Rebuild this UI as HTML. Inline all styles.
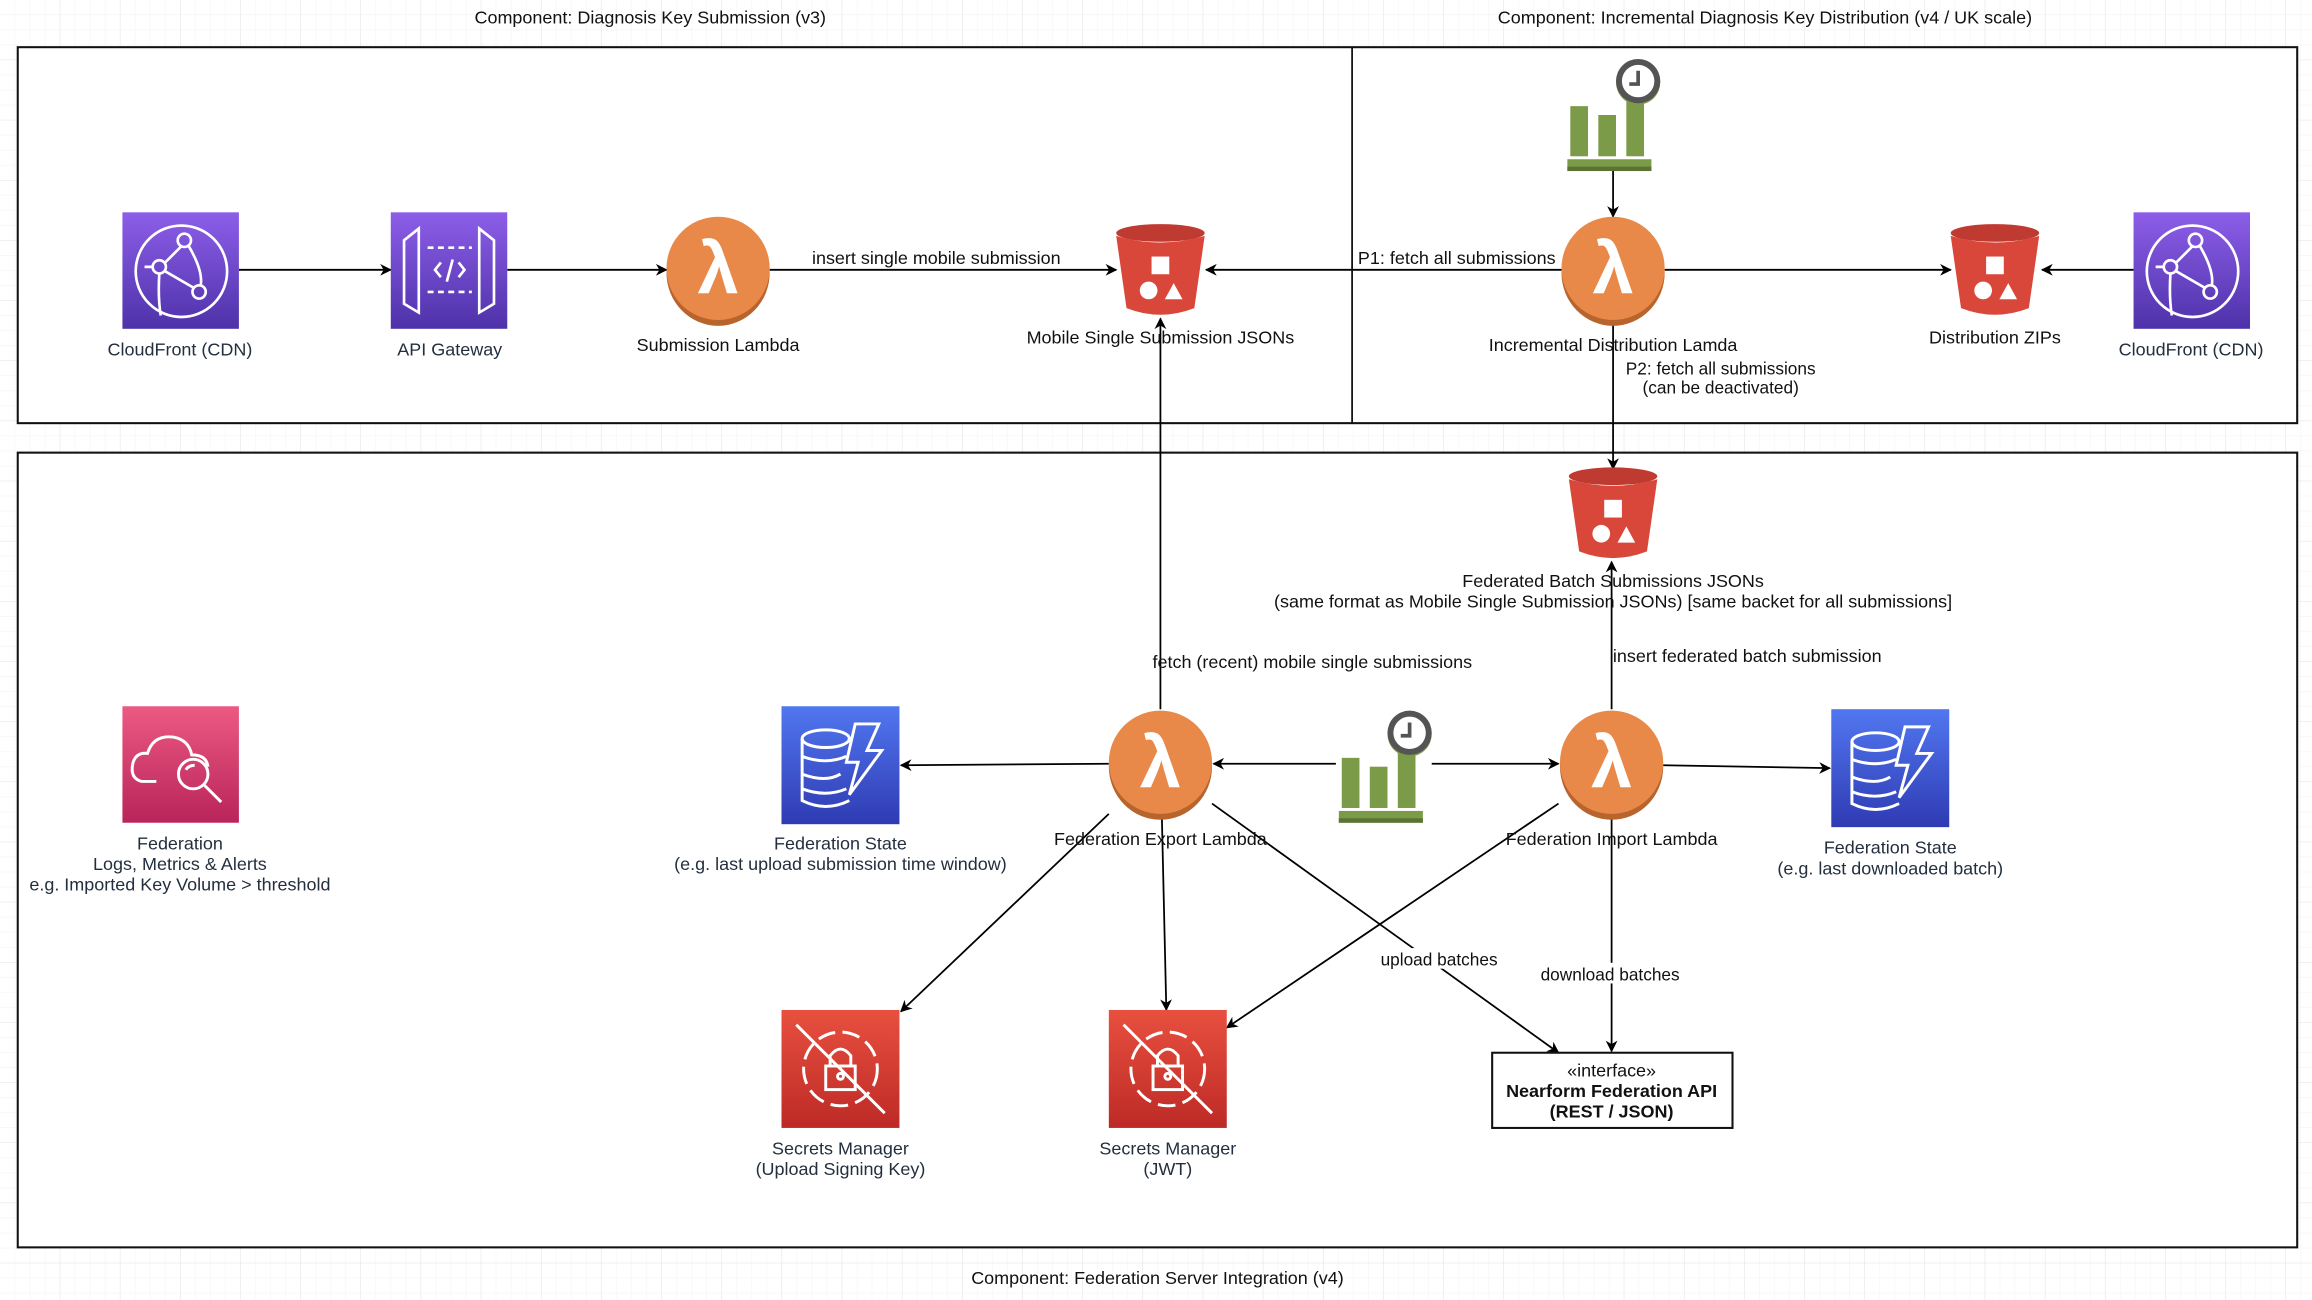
<!DOCTYPE html>
<html><head><meta charset="utf-8"><style>
html,body{margin:0;padding:0;background:#fff}
svg{display:block}
text{font-family:"Liberation Sans",Arial,sans-serif;font-size:12.2px;fill:#111}
.l{fill:#232f3e}
</style></head><body>
<svg width="2312" height="1300" viewBox="0 0 1568 881.7" xmlns="http://www.w3.org/2000/svg">
<defs>
<pattern id="gm" width="10.2" height="10.2" patternUnits="userSpaceOnUse"><path d="M10.2 0V10.2H0" fill="none" stroke="#f1f1f1" stroke-width="0.6"/></pattern>
<pattern id="gM" width="40.8" height="40.8" patternUnits="userSpaceOnUse"><rect width="40.8" height="40.8" fill="url(#gm)"/><path d="M40.8 0V40.8H0" fill="none" stroke="#e2e2e2" stroke-width="0.7"/></pattern>
<marker id="a" viewBox="0 0 10 10" refX="9" refY="5" markerWidth="8" markerHeight="8" orient="auto" markerUnits="userSpaceOnUse"><path d="M0,0 L10,5 L0,10 L3,5 Z" fill="#000"/></marker>
<linearGradient id="pu" x1="0" y1="0" x2="0" y2="1"><stop offset="0" stop-color="#8d5ee9"/><stop offset="1" stop-color="#4e32a9"/></linearGradient>
<linearGradient id="bl" x1="0" y1="0" x2="0" y2="1"><stop offset="0" stop-color="#5177f0"/><stop offset="1" stop-color="#2f3bb3"/></linearGradient>
<linearGradient id="rd" x1="0" y1="0" x2="0" y2="1"><stop offset="0" stop-color="#e8503f"/><stop offset="1" stop-color="#bd2a26"/></linearGradient>
<linearGradient id="pk" x1="0" y1="0" x2="0" y2="1"><stop offset="0" stop-color="#ec5a83"/><stop offset="1" stop-color="#b9245a"/></linearGradient>
<g id="cf"><rect width="79" height="79" fill="url(#pu)"/><g fill="none" stroke="#fff" stroke-width="1.8"><ellipse cx="40" cy="40" rx="31" ry="31"/><circle cx="42" cy="19" r="4.5"/><circle cx="25" cy="37" r="4.5"/><circle cx="52" cy="54" r="4.5"/><path d="M40 23 L29 34 M29 40 L48 51 M25 42 Q24 58 26 70 M45 23 Q55 40 53 50 M15 37 H20"/></g></g>
<g id="lam"><ellipse cx="0" cy="3" rx="35" ry="36" fill="#b8642d"/><ellipse cx="0" cy="0" rx="35" ry="35" fill="#e8894a"/><text x="0" y="17" text-anchor="middle" style="font-size:50px;font-weight:bold;fill:#fff">λ</text></g>
<g id="bk"><ellipse cx="30" cy="6" rx="30" ry="6" fill="#bf3a30"/><path d="M0,8 L7,57 Q30,66 53,57 L60,8 Q30,17 0,8 Z" fill="#d9473a"/><rect x="24" y="22" width="12" height="12" fill="#fff"/><circle cx="22" cy="45" r="6" fill="#fff"/><path d="M33 51 L39 40 L45 51 Z" fill="#fff"/></g>
<g id="ddb"><rect width="80" height="80" fill="url(#bl)"/><g fill="none" stroke="#fff" stroke-width="2"><ellipse cx="30" cy="22" rx="16" ry="6"/><path d="M14 22 V64 Q30 72 46 64 M14 34 Q30 40 44 34 M14 46 Q30 52 40 46 M14 56 Q30 62 44 56 M50 12 H66 L58 30 H68 L46 60 L52 38 H44 Z"/></g></g>
<g id="sm"><rect width="80" height="80" fill="url(#rd)"/><g fill="none" stroke="#fff" stroke-width="2"><circle cx="40" cy="40" r="25" stroke-dasharray="12 5"/><rect x="30" y="38" width="20" height="16"/><path d="M33 38 V31 Q40 22 47 31 V38 M10 10 L70 70"/><circle cx="40" cy="45" r="2"/></g></g>
<g id="clk"><rect x="0" y="30" width="12" height="34" fill="#7c9b48"/><rect x="19" y="36" width="12" height="28" fill="#7c9b48"/><rect x="38" y="24" width="12" height="40" fill="#7c9b48"/><rect x="-2" y="66" width="57" height="8" fill="#7c9b48"/><rect x="-2" y="71" width="57" height="3" fill="#5a7334"/><circle cx="46" cy="14" r="15" fill="#7c9b48"/><circle cx="46" cy="13" r="15" fill="#545454"/><circle cx="46" cy="13" r="11" fill="#fff"/><path d="M46 6 V15 H40" fill="none" stroke="#545454" stroke-width="2.5"/></g>
</defs>
<rect width="1568" height="881.7" fill="url(#gM)"/>
<rect x="12" y="32" width="1546" height="255" fill="#fff" stroke="#111" stroke-width="1.4"/>
<line x1="917" y1="32" x2="917" y2="287" stroke="#111" stroke-width="1.2"/>
<rect x="12" y="307" width="1546" height="539" fill="#fff" stroke="#111" stroke-width="1.4"/>
<text x="441" y="16" text-anchor="middle">Component: Diagnosis Key Submission (v3)</text>
<text x="1197" y="16" text-anchor="middle">Component: Incremental Diagnosis Key Distribution (v4 / UK scale)</text>
<text x="785" y="871" text-anchor="middle">Component: Federation Server Integration (v4)</text>

<g stroke="#000" stroke-width="1.2" fill="none" marker-end="url(#a)">
<line x1="162" y1="183" x2="265" y2="183"/>
<line x1="344" y1="183" x2="452" y2="183"/>
<line x1="522" y1="183" x2="757" y2="183"/>
<line x1="1059" y1="183" x2="818" y2="183"/>
<line x1="1129" y1="183" x2="1323" y2="183"/>
<line x1="1447" y1="183" x2="1385" y2="183"/>
<line x1="1094" y1="113" x2="1094" y2="147"/>
<line x1="1094" y1="220" x2="1094" y2="318"/>
<line x1="787" y1="481" x2="787" y2="216"/>
<line x1="1093" y1="481" x2="1093" y2="381"/>
<line x1="752" y1="518" x2="611" y2="519"/>
<line x1="906" y1="518" x2="823" y2="518"/>
<line x1="971" y1="518" x2="1057" y2="518"/>
<line x1="1128" y1="519" x2="1241" y2="521"/>
<line x1="752" y1="552" x2="611" y2="686"/>
<line x1="788" y1="555" x2="791" y2="685"/>
<line x1="822" y1="545" x2="1057" y2="714"/>
<line x1="1057" y1="545" x2="832" y2="697"/>
<line x1="1093" y1="555" x2="1093" y2="713"/>
</g>
<g fill="#fff">
<rect x="555" y="167" width="160" height="14"/><rect x="925" y="167" width="126" height="14"/>
<rect x="789" y="441" width="203" height="14"/><rect x="1100" y="437" width="172" height="14"/>
<rect x="936" y="643" width="80" height="14"/><rect x="1045" y="653" width="94" height="14"/>
</g>
<text x="635" y="179" text-anchor="middle">insert single mobile submission</text>
<text x="988" y="179" text-anchor="middle">P1: fetch all submissions</text>
<text x="1167" y="254" text-anchor="middle" style="font-size:11.7px">P2: fetch all submissions</text>
<text x="1167" y="267" text-anchor="middle" style="font-size:11.7px">(can be deactivated)</text>
<text x="890" y="453" text-anchor="middle">fetch (recent) mobile single submissions</text>
<text x="1185" y="449" text-anchor="middle">insert federated batch submission</text>
<text x="976" y="655" text-anchor="middle" style="font-size:11.7px">upload batches</text>
<text x="1092" y="665" text-anchor="middle" style="font-size:11.7px">download batches</text>

<use href="#cf" x="83" y="144"/><text class="l" x="122" y="241" text-anchor="middle">CloudFront (CDN)</text>
<rect x="265" y="144" width="79" height="79" fill="url(#pu)"/>
<g fill="none" stroke="#fff" stroke-width="1.8"><path d="M274 163 L284 155 V212 L274 206 Z M335 163 L325 155 V212 L335 206 Z"/><path d="M290 168 H320 M290 198 H320" stroke-dasharray="4 3"/><path d="M299 178 L295 183 L299 188 M311 178 L315 183 L311 188 M307 176 L303 191"/></g>
<text class="l" x="305" y="241" text-anchor="middle">API Gateway</text>
<use href="#lam" x="487" y="182"/><text x="487" y="238" text-anchor="middle">Submission Lambda</text>
<use href="#bk" x="757" y="152"/><text x="787" y="233" text-anchor="middle">Mobile Single Submission JSONs</text>
<use href="#clk" x="1065" y="42"/>
<use href="#lam" x="1094" y="182"/><text x="1094" y="238" text-anchor="middle">Incremental Distribution Lamda</text>
<use href="#bk" x="1323" y="152"/><text x="1353" y="233" text-anchor="middle">Distribution ZIPs</text>
<use href="#cf" x="1447" y="144"/><text class="l" x="1486" y="241" text-anchor="middle">CloudFront (CDN)</text>

<use href="#bk" x="1064" y="317"/>
<text x="1094" y="398" text-anchor="middle">Federated Batch Submissions JSONs</text>
<text x="1094" y="412" text-anchor="middle">(same format as Mobile Single Submission JSONs) [same backet for all submissions]</text>

<rect x="83" y="479" width="79" height="79" fill="url(#pk)"/>
<g fill="none" stroke="#fff" stroke-width="2"><path d="M106 530 H96 Q88 528 90 518 Q92 510 100 511 Q104 498 118 500 Q128 502 130 512 Q140 512 141 520"/><circle cx="131" cy="525" r="10"/><path d="M138 532 L150 544"/><path d="M126 522 Q128 519 132 519"/></g>
<text class="l" x="122" y="576" text-anchor="middle">Federation</text>
<text class="l" x="122" y="590" text-anchor="middle">Logs, Metrics &amp; Alerts</text>
<text class="l" x="122" y="604" text-anchor="middle">e.g. Imported Key Volume &gt; threshold</text>

<use href="#ddb" x="530" y="479"/>
<text class="l" x="570" y="576" text-anchor="middle">Federation State</text>
<text class="l" x="570" y="590" text-anchor="middle">(e.g. last upload submission time window)</text>
<use href="#lam" x="787" y="517"/><text x="787" y="573" text-anchor="middle">Federation Export Lambda</text>
<use href="#clk" x="910" y="484"/>
<use href="#lam" x="1093" y="517"/><text x="1093" y="573" text-anchor="middle">Federation Import Lambda</text>
<use href="#ddb" x="1242" y="481"/>
<text class="l" x="1282" y="579" text-anchor="middle">Federation State</text>
<text class="l" x="1282" y="593" text-anchor="middle">(e.g. last downloaded batch)</text>
<use href="#sm" x="530" y="685"/>
<text class="l" x="570" y="783" text-anchor="middle">Secrets Manager</text>
<text class="l" x="570" y="797" text-anchor="middle">(Upload Signing Key)</text>
<use href="#sm" x="752" y="685"/>
<text class="l" x="792" y="783" text-anchor="middle">Secrets Manager</text>
<text class="l" x="792" y="797" text-anchor="middle">(JWT)</text>
<rect x="1012" y="714" width="163" height="51" fill="#fff" stroke="#111" stroke-width="1.4"/>
<text x="1093" y="730" text-anchor="middle">«interface»</text>
<text x="1093" y="744" text-anchor="middle" style="font-weight:bold">Nearform Federation API</text>
<text x="1093" y="758" text-anchor="middle" style="font-weight:bold">(REST / JSON)</text>
</svg>
</body></html>
